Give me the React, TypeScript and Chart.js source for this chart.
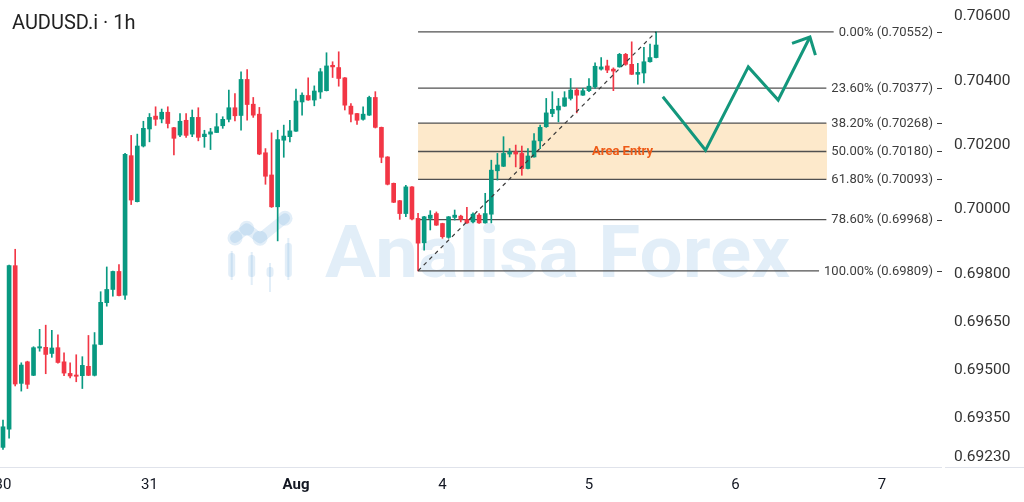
import { useEffect, useRef } from "react";
import { Chart, registerables } from "chart.js";

Chart.register(...registerables);

// ---- Data (hourly candles, index 0 = Jul 30 00:00) ----
const OPEN = [
  0.6926, 0.69317, 0.69825, 0.69459, 0.69526, 0.69484, 0.69569, 0.69571, 0.69552, 0.6957,
  0.69526, 0.6949, 0.69485, 0.69483, 0.69512, 0.69484, 0.6958, 0.6971, 0.69751, 0.69807,
  0.69733, 0.70167, 0.70024, 0.70197, 0.7025, 0.7029, 0.70281, 0.70302, 0.70254, 0.70231,
  0.70277, 0.70234, 0.70286, 0.70226, 0.70234, 0.70239, 0.7026, 0.7028, 0.70316, 0.70292,
  0.70404, 0.70327, 0.70296, 0.70176, 0.70107, 0.70008, 0.70215, 0.70226, 0.70243, 0.70334,
  0.70354, 0.7034, 0.70365, 0.70369, 0.70448, 0.70441, 0.70409, 0.70321, 0.70298, 0.7028,
  0.70293, 0.70348, 0.70255, 0.70163, 0.70081, 0.70027, 0.69987, 0.7007, 0.69972, 0.69896,
  0.69972, 0.69987, 0.69956, 0.69913, 0.69975, 0.69979, 0.69969, 0.69961, 0.69982, 0.69958,
  0.69985, 0.7012, 0.70134, 0.70172, 0.70179, 0.70174, 0.70127, 0.70163, 0.70213, 0.70257,
  0.70298, 0.70309, 0.70321, 0.70345, 0.70371, 0.70355, 0.70369, 0.70381, 0.70436, 0.70446,
  0.70436, 0.70443, 0.70482, 0.70451, 0.7042, 0.70424, 0.70459, 0.70472,
];
const HIGH = [
  0.69345, 0.69827, 0.69876, 0.69523, 0.69528, 0.69573, 0.69627, 0.6964, 0.69624, 0.6961,
  0.69554, 0.69523, 0.69548, 0.69542, 0.69608, 0.69617, 0.69744, 0.69821, 0.69808, 0.69828,
  0.70174, 0.7023, 0.70234, 0.70274, 0.70298, 0.70319, 0.70312, 0.70319, 0.70255, 0.70298,
  0.70298, 0.70309, 0.70316, 0.70246, 0.70252, 0.70298, 0.70288, 0.70371, 0.7036, 0.70428,
  0.70435, 0.70348, 0.70317, 0.70189, 0.70238, 0.70246, 0.70262, 0.70277, 0.70374, 0.70362,
  0.70409, 0.70384, 0.70438, 0.70487, 0.70459, 0.7049, 0.7041, 0.70329, 0.70299, 0.70319,
  0.70352, 0.70366, 0.70256, 0.70164, 0.70082, 0.70028, 0.70075, 0.70071, 0.69988, 0.69978,
  0.69996, 0.69992, 0.69957, 0.69978, 0.69998, 0.69982, 0.70006, 0.69989, 0.69987, 0.7005,
  0.70153, 0.70174, 0.70226, 0.70189, 0.702, 0.70197, 0.70189, 0.70236, 0.70262, 0.70345,
  0.70366, 0.70345, 0.70366, 0.70407, 0.70376, 0.70376, 0.70407, 0.70456, 0.70472, 0.70464,
  0.7044, 0.70485, 0.70485, 0.70521, 0.70454, 0.70504, 0.70514, 0.70552,
];
const LOW = [
  0.69254, 0.69289, 0.69451, 0.69435, 0.69443, 0.69483, 0.69559, 0.69489, 0.6954, 0.69522,
  0.69483, 0.69476, 0.69464, 0.69443, 0.69483, 0.69482, 0.69579, 0.69699, 0.6973, 0.69731,
  0.6972, 0.70015, 0.70023, 0.70194, 0.7021, 0.70261, 0.70269, 0.70253, 0.70169, 0.70226,
  0.70224, 0.70226, 0.70213, 0.70193, 0.70186, 0.70239, 0.70252, 0.70272, 0.70275, 0.70246,
  0.70277, 0.70286, 0.7017, 0.70078, 0.70006, 0.69902, 0.70162, 0.7021, 0.70242, 0.70293,
  0.70339, 0.70322, 0.70345, 0.70368, 0.7041, 0.70383, 0.70309, 0.70272, 0.70264, 0.70277,
  0.70292, 0.70253, 0.70145, 0.70076, 0.70021, 0.69969, 0.69977, 0.69967, 0.69809, 0.69873,
  0.69936, 0.6995, 0.6991, 0.6991, 0.69967, 0.69961, 0.69956, 0.69958, 0.69956, 0.69957,
  0.69958, 0.70091, 0.70133, 0.70163, 0.70132, 0.70106, 0.70126, 0.70162, 0.70189, 0.70255,
  0.70288, 0.70272, 0.7032, 0.7034, 0.703, 0.70354, 0.70366, 0.70376, 0.70433, 0.70425,
  0.70369, 0.70442, 0.70448, 0.70419, 0.70389, 0.70393, 0.70458, 0.70471,
];
const CLOSE = [
  0.69324, 0.69825, 0.69457, 0.69516, 0.69456, 0.6957, 0.69573, 0.69549, 0.69569, 0.69524,
  0.69491, 0.69482, 0.69481, 0.69515, 0.69484, 0.69579, 0.69711, 0.69751, 0.69807, 0.69732,
  0.70171, 0.70029, 0.70197, 0.70252, 0.70286, 0.7028, 0.70302, 0.70267, 0.70221, 0.70274,
  0.7023, 0.70286, 0.70224, 0.70234, 0.70241, 0.70257, 0.7028, 0.70316, 0.70291, 0.70404,
  0.70326, 0.70293, 0.70172, 0.70103, 0.70008, 0.70217, 0.70228, 0.70244, 0.70337, 0.70355,
  0.7034, 0.70368, 0.70428, 0.70446, 0.70443, 0.70407, 0.70324, 0.70296, 0.70277, 0.70296,
  0.70348, 0.70255, 0.70162, 0.70078, 0.70022, 0.69987, 0.7007, 0.6997, 0.69895, 0.69977,
  0.69982, 0.69951, 0.69915, 0.69977, 0.69982, 0.69969, 0.69958, 0.69985, 0.69958, 0.69987,
  0.70122, 0.70138, 0.70174, 0.70179, 0.70172, 0.70127, 0.70166, 0.70213, 0.70255, 0.703,
  0.70311, 0.70321, 0.70347, 0.70371, 0.70355, 0.70369, 0.70383, 0.70445, 0.70443, 0.70433,
  0.7043, 0.70482, 0.70451, 0.7042, 0.70426, 0.70459, 0.70472, 0.70511,
];

const DAY_TICKS = [0, 24, 48, 72, 96, 120, 144];
const DAY_LABELS = ["30", "31", "Aug", "4", "5", "6", "7"];
const PRICE_TICKS = [0.706, 0.704, 0.702, 0.7, 0.698, 0.6965, 0.695, 0.6935, 0.6923];

const FIB_RATIOS = ["0.00%", "23.60%", "38.20%", "50.00%", "61.80%", "78.60%", "100.00%"];
const FIB_PRICES = [0.70552, 0.70377, 0.70268, 0.7018, 0.70093, 0.69968, 0.69809];
const FIB_START = 68;
const FIB_END = 135;

const TREND_X = [68, 107];
const TREND_Y = [0.69809, 0.70552];

const PATH_X = [108.1, 115.1, 122.1, 127, 132.2];
const PATH_Y = [0.7035, 0.70184, 0.70443, 0.7034, 0.70536];

const X_MIN = -0.49;
const X_MAX = 154;
const Y_MIN = 0.69199;
const Y_MAX = 0.70651;

const TITLE = "AUDUSD.i · 1h";
const WATERMARK = "Analisa Forex";
const ZONE_LABEL = "Area Entry";

const GREEN = "#089981";
const RED = "#f23645";
const WM = "rgba(52, 132, 205, 0.14)";
const FONT = "Roboto, 'Noto Sans', sans-serif";

const candleColor = (i: number) => (CLOSE[i] >= OPEN[i] ? GREEN : RED);

const overlayPlugin = {
  id: "overlay",
  beforeDatasetsDraw(chart: any) {
    const { ctx, chartArea, scales } = chart;
    const x = scales.x;
    const y = scales.y;
    ctx.save();

    // watermark (logo + text)
    const ox = chartArea.left + chartArea.width * 0.2418;
    const oy = chartArea.top + chartArea.height * 0.5;
    ctx.fillStyle = WM;
    ctx.strokeStyle = WM;
    ctx.lineWidth = 10;
    ctx.lineCap = "round";
    ctx.lineJoin = "round";
    const net = [
      [7, 4.5],
      [18.7, -5.2],
      [32, 4.8],
      [57, -15.2],
    ];
    ctx.beginPath();
    net.forEach(([dx, dy], i) => (i ? ctx.lineTo(ox + dx, oy + dy) : ctx.moveTo(ox + dx, oy + dy)));
    ctx.stroke();
    net.forEach(([dx, dy]) => {
      ctx.beginPath();
      ctx.arc(ox + dx, oy + dy, 7.5, 0, Math.PI * 2);
      ctx.fill();
    });
    const logoCandles = [
      [3.7, 17.5, 19.5, 43.5, 46.5],
      [23.7, 18.5, 21.5, 43.5, 51.5],
      [42, 29.5, 33.5, 43.5, 58.5],
      [60.3, 4.5, 9.5, 43.5, 46.5],
    ];
    logoCandles.forEach(([cx, wt, bt, bb, wb]) => {
      ctx.fillRect(ox + cx - 1, oy + wt, 2, wb - wt);
      ctx.beginPath();
      (ctx as any).roundRect
        ? (ctx as any).roundRect(ox + cx - 3.5, oy + bt, 7, bb - bt, 3)
        : ctx.rect(ox + cx - 3.5, oy + bt, 7, bb - bt);
      ctx.fill();
    });
    ctx.font = `bold 72px ${FONT}`;
    ctx.textBaseline = "alphabetic";
    ctx.textAlign = "left";
    const tw = ctx.measureText(WATERMARK).width;
    ctx.save();
    ctx.translate(ox + 97, oy + 43.5);
    ctx.scale(465 / tw, 1);
    ctx.fillText(WATERMARK, 0, 0);
    ctx.restore();

    // fib zone
    const x0 = x.getPixelForValue(FIB_START);
    const x1 = x.getPixelForValue(FIB_END);
    const yA = y.getPixelForValue(FIB_PRICES[2]);
    const yB = y.getPixelForValue(FIB_PRICES[4]);
    ctx.fillStyle = "#fde9cb";
    ctx.fillRect(x0, yA, x1 - x0, yB - yA);

    // fib lines
    ctx.font = `13px ${FONT}`;
    ctx.strokeStyle = "#505050";
    ctx.lineWidth = 1.3;
    ctx.lineCap = "butt";
    FIB_PRICES.forEach((p, i) => {
      const label = `${FIB_RATIOS[i]} (${p.toFixed(5)})`;
      const w = ctx.measureText(label).width;
      const yy = y.getPixelForValue(p);
      ctx.beginPath();
      ctx.moveTo(x0, yy);
      ctx.lineTo(chartArea.right - 10 - w - 5, yy);
      ctx.stroke();
    });
    ctx.restore();
  },
  afterDatasetsDraw(chart: any) {
    const { ctx, chartArea, scales } = chart;
    const x = scales.x;
    const y = scales.y;
    ctx.save();

    // arrow head on the projected path
    const meta = chart.getDatasetMeta(3);
    const pts = meta.data;
    if (pts.length >= 2) {
      const a = pts[pts.length - 2];
      const b = pts[pts.length - 1];
      const ang = Math.atan2(b.y - a.y, b.x - a.x);
      const len = 19;
      ctx.strokeStyle = "#13977c";
      ctx.lineWidth = 3;
      ctx.lineCap = "butt";
      ctx.lineJoin = "miter";
      ctx.beginPath();
      ctx.moveTo(b.x + len * Math.cos(ang + Math.PI - 0.76), b.y + len * Math.sin(ang + Math.PI - 0.76));
      ctx.lineTo(b.x, b.y);
      ctx.lineTo(b.x + len * Math.cos(ang + Math.PI + 0.76), b.y + len * Math.sin(ang + Math.PI + 0.76));
      ctx.stroke();
    }

    // zone label
    ctx.font = `bold 13px ${FONT}`;
    ctx.fillStyle = "#ee5a16";
    ctx.textAlign = "center";
    ctx.textBaseline = "middle";
    ctx.fillText(
      ZONE_LABEL,
      (x.getPixelForValue(FIB_START) + x.getPixelForValue(FIB_END)) / 2,
      y.getPixelForValue(FIB_PRICES[3])
    );

    // fib labels
    ctx.font = `13px ${FONT}`;
    ctx.fillStyle = "#3d3d3d";
    ctx.textAlign = "right";
    ctx.strokeStyle = "#3d3d3d";
    ctx.lineWidth = 1;
    FIB_PRICES.forEach((p, i) => {
      const yy = y.getPixelForValue(p);
      ctx.fillText(`${FIB_RATIOS[i]} (${p.toFixed(5)})`, chartArea.right - 10, yy + 0.5);
      ctx.beginPath();
      ctx.moveTo(chartArea.right - 6, Math.round(yy) + 0.5);
      ctx.lineTo(chartArea.right - 1, Math.round(yy) + 0.5);
      ctx.stroke();
    });
    ctx.restore();
  },
  afterDraw(chart: any) {
    const { ctx, chartArea, width } = chart;
    ctx.save();
    // bottom axis line
    ctx.strokeStyle = "#e0e3eb";
    ctx.lineWidth = 1;
    const by = Math.round(chartArea.bottom) + 0.5;
    ctx.beginPath();
    ctx.moveTo(0, by);
    ctx.lineTo(chartArea.right - 1, by);
    ctx.moveTo(chartArea.right + 2, by);
    ctx.lineTo(width, by);
    ctx.stroke();
    // title
    ctx.font = `20px ${FONT}`;
    ctx.fillStyle = "#222222";
    ctx.textAlign = "left";
    ctx.textBaseline = "alphabetic";
    ctx.fillText(TITLE, 12, 29);
    ctx.restore();
  },
};

export default function App() {
  const canvasRef = useRef<HTMLCanvasElement | null>(null);

  useEffect(() => {
    const canvas = canvasRef.current;
    if (!canvas) return;
    const idx = OPEN.map((_, i) => i);

    const chart = new Chart(canvas, {
      type: "bar",
      data: {
        datasets: [
          {
            type: "bar",
            label: "wick",
            data: idx.map((i) => ({ x: i, y: [LOW[i], HIGH[i]] })) as any,
            backgroundColor: (c: any) => candleColor(c.dataIndex),
            barThickness: 1,
            grouped: false,
            borderWidth: 0,
            order: 2,
          } as any,
          {
            type: "bar",
            label: "body",
            data: idx.map((i) => ({ x: i, y: [OPEN[i], CLOSE[i]] })) as any,
            backgroundColor: (c: any) => candleColor(c.dataIndex),
            barThickness: 4,
            minBarLength: 1,
            grouped: false,
            borderWidth: 0,
            order: 1,
          } as any,
          {
            type: "line",
            label: "trend",
            data: TREND_X.map((v, i) => ({ x: v, y: TREND_Y[i] })),
            borderColor: "#3a3a3a",
            borderWidth: 1.2,
            borderDash: [4, 4],
            pointRadius: 0,
            tension: 0,
            order: 0,
          } as any,
          {
            type: "line",
            label: "path",
            data: PATH_X.map((v, i) => ({ x: v, y: PATH_Y[i] })),
            borderColor: "#13977c",
            borderWidth: 3,
            pointRadius: 0,
            tension: 0,
            borderJoinStyle: "miter",
            order: 0,
          } as any,
        ],
      },
      options: {
        responsive: false,
        animation: false,
        layout: { padding: 0 },
        plugins: {
          legend: { display: false },
          tooltip: { enabled: false },
        },
        scales: {
          x: {
            type: "linear",
            offset: false,
            min: X_MIN,
            max: X_MAX,
            grid: { display: false, drawTicks: false, offset: false },
            border: { display: false },
            afterBuildTicks: (s: any) => {
              s.ticks = DAY_TICKS.map((v) => ({ value: v }));
            },
            afterFit: (s: any) => {
              s.height = 35;
              s.paddingLeft = 0;
              s.paddingRight = 0;
            },
            ticks: {
              autoSkip: false,
              maxRotation: 0,
              padding: 9,
              color: "#131722",
              font: (c: any) => ({
                family: FONT,
                size: 15,
                weight: c.index === 2 ? "bold" : "normal",
              }),
              callback: (_v: any, i: number) => DAY_LABELS[i],
            },
          },
          y: {
            type: "linear",
            position: "right",
            offset: false,
            min: Y_MIN,
            max: Y_MAX,
            grid: { display: false, drawTicks: false },
            border: { display: false },
            afterBuildTicks: (s: any) => {
              s.ticks = PRICE_TICKS.map((v) => ({ value: v }));
            },
            afterFit: (s: any) => {
              s.width = 81;
              s.paddingTop = 0;
              s.paddingBottom = 0;
            },
            ticks: {
              padding: 11,
              color: "#333333",
              font: { family: FONT, size: 15.5 },
              callback: (v: any) => Number(v).toFixed(5),
            },
          },
        },
      } as any,
      plugins: [overlayPlugin],
    });

    return () => chart.destroy();
  }, []);

  return (
    <div style={{ position: "fixed", left: 0, top: 0, width: 1024, height: 502, background: "#ffffff" }}>
      <canvas ref={canvasRef} width={1024} height={502} />
    </div>
  );
}
